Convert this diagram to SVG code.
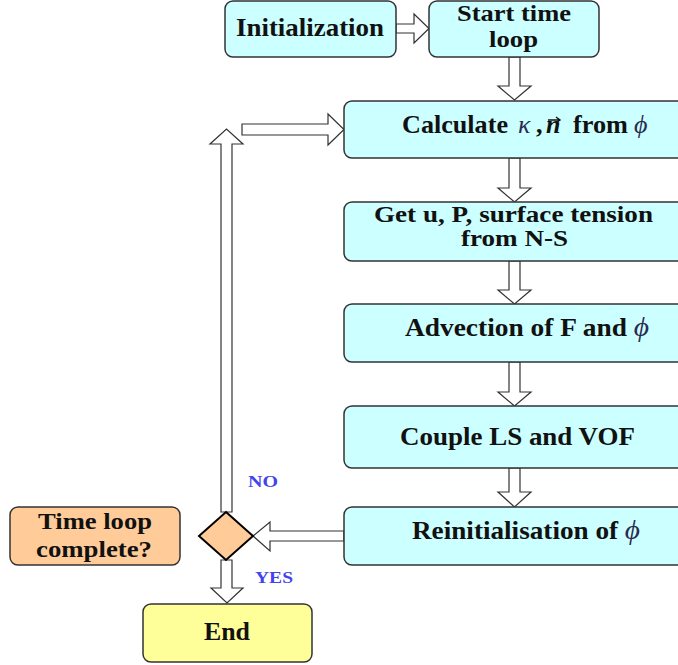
<svg xmlns="http://www.w3.org/2000/svg" width="678" height="665" viewBox="0 0 678 665">
<style>
.box{stroke:#333;stroke-width:1.5}
.cyan{fill:#ccffff}
.orange{fill:#ffcc99}
.yellow{fill:#ffff99}
.t{font-family:"Liberation Serif","Times New Roman",serif;font-weight:bold;font-size:26px;fill:#111;text-anchor:middle}
.two{font-size:24px}
.s{text-anchor:start}
.g{font-style:italic;font-weight:normal;fill:#2a2a50}
.lbl{font-family:"Liberation Serif","Times New Roman",serif;font-weight:bold;font-size:17px;fill:#4444ee}
.arr{fill:#fff;stroke:#333;stroke-width:1.2;stroke-linejoin:miter}
</style>
<rect width="678" height="665" fill="#fff"/>
<g id="connectors">
<polygon class="arr" points="396,24 414,24 414,14 429,28.5 414,43 414,33 396,33"/>
<polygon class="arr" points="509,57 520,57 520,86 531,86 514.5,100 498,86 509,86"/>
<polygon class="arr" points="509,158 520,158 520,188 531,188 514.5,202 498,188 509,188"/>
<polygon class="arr" points="509,261 520,261 520,290 531,290 514.5,304 498,290 509,290"/>
<polygon class="arr" points="509,362 520,362 520,392 531,392 514.5,406 498,392 509,392"/>
<polygon class="arr" points="509,468 520,468 520,492 531,492 514.5,507 498,492 509,492"/>
<polygon class="arr" points="344,531 270,531 270,522 253,536 270,551 270,541 344,541"/>
<polygon class="arr" points="221,512 221,144 210,144 226.5,129 243,144 232,144 232,512"/>
<polygon class="arr" points="242,124 328,124 328,114 344,129.5 328,145 328,135 242,135"/>
<polygon class="arr" points="221,560 221,588 211,588 227,603 243,588 232,588 232,560"/>
<text class="lbl" x="248" y="487" textLength="30" lengthAdjust="spacingAndGlyphs">NO</text>
<text class="lbl" x="255" y="583" textLength="38" lengthAdjust="spacingAndGlyphs">YES</text>
</g>
<g id="init">
<rect class="box cyan" x="225" y="1" width="171" height="56" rx="8"/>
<text class="t" x="310" y="36" textLength="148" lengthAdjust="spacingAndGlyphs">Initialization</text>
</g>
<g id="start">
<rect class="box cyan" x="429" y="1" width="170" height="56" rx="8"/>
<text class="t two" x="514" y="21" textLength="114" lengthAdjust="spacingAndGlyphs">Start time</text>
<text class="t two" x="513.5" y="47" textLength="49" lengthAdjust="spacingAndGlyphs">loop</text>
</g>
<g id="calc">
<rect class="box cyan" x="344" y="101" width="350" height="57" rx="8"/>
<text class="t s" x="402" y="133" textLength="106" lengthAdjust="spacingAndGlyphs">Calculate</text>
<text class="t s g" x="518" y="133" font-size="28">κ</text>
<text class="t s" x="536" y="133">,</text>
<text class="t s" x="546" y="133" font-style="italic">n</text>
<path d="M548,120 H560 M556,117 L560,120 L556,123" fill="none" stroke="#111" stroke-width="1.4"/>
<text class="t s" x="573" y="133" textLength="55" lengthAdjust="spacingAndGlyphs">from</text>
<text class="t s g" x="634" y="133" font-size="28">ϕ</text>
</g>
<g id="getu">
<rect class="box cyan" x="344" y="202" width="350" height="59" rx="8"/>
<text class="t two" x="513.5" y="222" textLength="279" lengthAdjust="spacingAndGlyphs">Get u, P, surface tension</text>
<text class="t two" x="514.5" y="246" textLength="107" lengthAdjust="spacingAndGlyphs">from N-S</text>
</g>
<g id="advect">
<rect class="box cyan" x="344" y="304" width="350" height="58" rx="8"/>
<text class="t" x="527" y="336" textLength="244" lengthAdjust="spacingAndGlyphs">Advection of F and <tspan class="g" font-size="28">ϕ</tspan></text>
</g>
<g id="couple">
<rect class="box cyan" x="344" y="406" width="350" height="62" rx="8"/>
<text class="t" x="517.5" y="445" textLength="235" lengthAdjust="spacingAndGlyphs">Couple LS and VOF</text>
</g>
<g id="reinit">
<rect class="box cyan" x="344" y="507" width="350" height="58" rx="8"/>
<text class="t" x="526" y="539" textLength="228" lengthAdjust="spacingAndGlyphs">Reinitialisation of <tspan class="g" font-size="28">ϕ</tspan></text>
</g>
<g id="decision">
<polygon points="226,512 253,536 226,560 199,536" fill="#ffcc99" stroke="#000" stroke-width="2"/>
</g>
<g id="question">
<rect class="box orange" x="10" y="507" width="170" height="58" rx="8"/>
<text class="t two" x="95" y="529" textLength="114" lengthAdjust="spacingAndGlyphs">Time loop</text>
<text class="t two" x="94" y="557" textLength="116" lengthAdjust="spacingAndGlyphs">complete?</text>
</g>
<g id="end">
<rect class="box yellow" x="143" y="604" width="169" height="58" rx="8"/>
<text class="t" x="227" y="640" textLength="46" lengthAdjust="spacingAndGlyphs">End</text>
</g>
</svg>
